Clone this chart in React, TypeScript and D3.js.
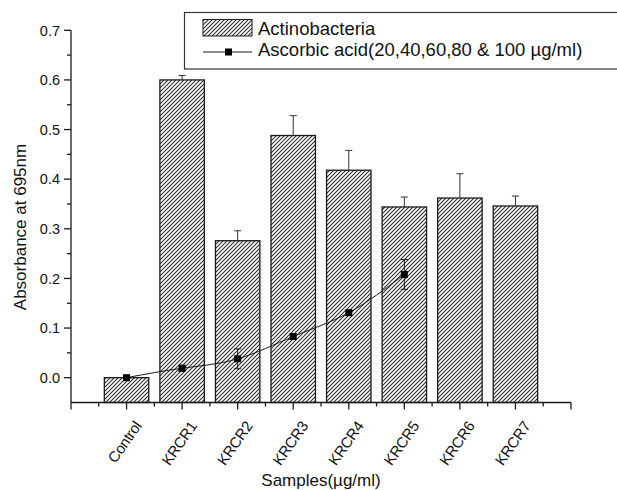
import React, { useRef, useEffect } from 'react';
import * as d3 from 'd3';

const categories = ['Control', 'KRCR1', 'KRCR2', 'KRCR3', 'KRCR4', 'KRCR5', 'KRCR6', 'KRCR7'];
const barValues = [0.0, 0.6, 0.276, 0.488, 0.418, 0.344, 0.362, 0.346];
const barErrors = [0, 0.009, 0.02, 0.04, 0.04, 0.02, 0.049, 0.02];
const ascorbicValues = [0.0, 0.019, 0.038, 0.083, 0.131, 0.208];
const ascorbicErrors = [0.002, 0.006, 0.02, 0.003, 0.003, 0.03];
const yTicks = [0.0, 0.1, 0.2, 0.3, 0.4, 0.5, 0.6, 0.7];
const legendLabels = ['Actinobacteria', 'Ascorbic acid(20,40,60,80 & 100 \u00b5g/ml)'];

const App = () => {
  const svgRef = useRef<SVGSVGElement>(null);
  const width = 617;
  const height = 490;

  useEffect(() => {
    const svg = d3.select(svgRef.current);
    svg.selectAll('*').remove();

    const font = 'Liberation Sans, Arial, sans-serif';
    const ink = '#1a1a1a';

    // hatch pattern
    const pat = svg.append('defs').append('pattern')
      .attr('id', 'hatch')
      .attr('patternUnits', 'userSpaceOnUse')
      .attr('width', 4)
      .attr('height', 4);
    pat.append('rect').attr('width', 4).attr('height', 4).attr('fill', '#fff');
    pat.append('path')
      .attr('d', 'M-1,1 L1,-1 M0,4 L4,0 M3,5 L5,3')
      .attr('stroke', '#2a2a2a')
      .attr('stroke-width', 1.05);

    // scales
    const x = d3.scaleLinear().domain([0, 9]).range([71, 571]);
    const y = d3.scaleLinear().domain([-0.05, 0.7]).range([402.5, 30.3]);
    const step = x(1) - x(0);
    const barW = step * 0.8;

    // bars
    svg.append('g')
      .selectAll('rect')
      .data(barValues)
      .enter()
      .append('rect')
      .attr('x', (d, i) => x(i + 1) - barW / 2)
      .attr('y', d => y(d))
      .attr('width', barW)
      .attr('height', d => y(-0.05) - y(d))
      .attr('fill', 'url(#hatch)')
      .attr('stroke', ink)
      .attr('stroke-width', 1.3);

    // bar error bars (upper half only)
    const eb = svg.append('g');
    barValues.forEach((v, i) => {
      if (!barErrors[i]) return;
      const cx = x(i + 1);
      eb.append('line')
        .attr('x1', cx).attr('x2', cx)
        .attr('y1', y(v)).attr('y2', y(v + barErrors[i]))
        .attr('stroke', '#333').attr('stroke-width', 1);
      eb.append('line')
        .attr('x1', cx - 3.5).attr('x2', cx + 3.5)
        .attr('y1', y(v + barErrors[i])).attr('y2', y(v + barErrors[i]))
        .attr('stroke', '#333').attr('stroke-width', 1);
    });

    // ascorbic acid line
    const line = d3.line<number>()
      .x((d, i) => x(i + 1))
      .y(d => y(d))
      .curve(d3.curveNatural);
    svg.append('path')
      .datum(ascorbicValues)
      .attr('d', line)
      .attr('fill', 'none')
      .attr('stroke', ink)
      .attr('stroke-width', 1);

    ascorbicValues.forEach((v, i) => {
      const cx = x(i + 1);
      const e = ascorbicErrors[i];
      if (e > 0.005) {
        eb.append('line')
          .attr('x1', cx).attr('x2', cx)
          .attr('y1', y(v - e)).attr('y2', y(v + e))
          .attr('stroke', ink).attr('stroke-width', 1);
        [v - e, v + e].forEach(t => {
          eb.append('line')
            .attr('x1', cx - 3.5).attr('x2', cx + 3.5)
            .attr('y1', y(t)).attr('y2', y(t))
            .attr('stroke', ink).attr('stroke-width', 1);
        });
      }
      svg.append('rect')
        .attr('x', cx - 3.5)
        .attr('y', y(v) - 3.5)
        .attr('width', 7)
        .attr('height', 7)
        .attr('fill', '#000');
    });

    // axes
    const axes = svg.append('g').attr('stroke', ink).attr('stroke-width', 1.3);
    axes.append('line')
      .attr('x1', x(0)).attr('x2', x(0))
      .attr('y1', y(0.7)).attr('y2', y(-0.05));
    axes.append('line')
      .attr('x1', x(0)).attr('x2', x(9))
      .attr('y1', y(-0.05)).attr('y2', y(-0.05));

    // y ticks
    d3.range(-0.05, 0.71, 0.05).forEach((t, i) => {
      if (i === 0) return;
      const major = i % 2 === 1;
      axes.append('line')
        .attr('x1', x(0) - (major ? 7 : 4)).attr('x2', x(0))
        .attr('y1', y(t)).attr('y2', y(t));
    });
    svg.append('g')
      .selectAll('text')
      .data(yTicks)
      .enter()
      .append('text')
      .attr('x', 60)
      .attr('y', d => y(d))
      .attr('dy', '0.36em')
      .attr('text-anchor', 'end')
      .attr('font-family', font)
      .attr('font-size', '14.5px')
      .attr('fill', '#111')
      .text(d => d3.format('.1f')(d));

    // x ticks
    d3.range(0, 9.01, 0.5).forEach((t, i) => {
      const major = i % 2 === 0;
      axes.append('line')
        .attr('x1', x(t)).attr('x2', x(t))
        .attr('y1', y(-0.05)).attr('y2', y(-0.05) + (major ? 7 : 4));
    });
    svg.append('g')
      .selectAll('text')
      .data(categories)
      .enter()
      .append('text')
      .attr('transform', (d, i) => `translate(${x(i + 1) + 7},${420}) rotate(-55)`)
      .attr('text-anchor', 'end')
      .attr('dy', '0.7em')
      .attr('font-family', font)
      .attr('font-size', '15px')
      .attr('letter-spacing', '-0.3px')
      .attr('fill', '#111')
      .text(d => d);

    // axis titles
    svg.append('text')
      .attr('transform', `translate(26,${227}) rotate(-90)`)
      .attr('text-anchor', 'middle')
      .attr('font-family', font)
      .attr('font-size', '17px')
      .attr('fill', '#111')
      .text('Absorbance at 695nm');

    svg.append('text')
      .attr('x', 321)
      .attr('y', 486)
      .attr('text-anchor', 'middle')
      .attr('font-family', font)
      .attr('font-size', '17px')
      .attr('fill', '#111')
      .text('Samples(\u00b5g/ml)');

    // legend
    const lg = svg.append('g');
    lg.append('rect')
      .attr('x', 184.5).attr('y', 12.5)
      .attr('width', 440).attr('height', 56.5)
      .attr('fill', '#fff')
      .attr('stroke', '#333')
      .attr('stroke-width', 1.2);
    lg.append('rect')
      .attr('x', 203).attr('y', 19.5)
      .attr('width', 49).attr('height', 16.5)
      .attr('fill', 'url(#hatch)')
      .attr('stroke', ink)
      .attr('stroke-width', 1);
    lg.append('line')
      .attr('x1', 203).attr('x2', 252)
      .attr('y1', 52).attr('y2', 52)
      .attr('stroke', ink).attr('stroke-width', 1);
    lg.append('rect')
      .attr('x', 228.5 - 3.5).attr('y', 52 - 3.5)
      .attr('width', 7).attr('height', 7)
      .attr('fill', '#000');
    lg.selectAll('text.lbl')
      .data(legendLabels)
      .enter()
      .append('text')
      .attr('x', 258)
      .attr('y', (d, i) => 35 + i * 21)
      .attr('font-family', font)
      .attr('font-size', '18.5px')
      .attr('fill', '#111')
      .text(d => d);
  }, []);

  return (
    <svg
      ref={svgRef}
      width={width}
      height={height}
      style={{ position: 'absolute', left: 0, top: 0, background: '#fff' }}
    />
  );
};

export default App;
